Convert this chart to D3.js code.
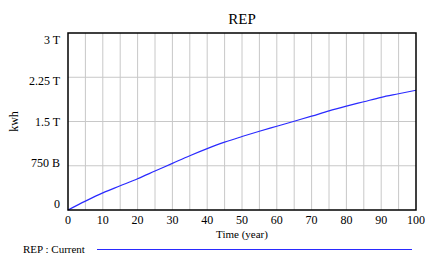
<!DOCTYPE html>
<html lang="en">
<head>
<script src="https://d3js.org/d3.v7.min.js"></script>
<style>
  body { margin: 0; background: #fff; }
</style>
</head>
<body>
<div id="chart"></div>
<script>
// data (value in trillion kwh)
var years = [0, 5, 10, 15, 20, 25, 30, 35, 40, 45, 50, 55, 60, 65, 70, 75, 80, 85, 90, 95, 100];
var rep = [0, 0.15, 0.29, 0.41, 0.53, 0.66, 0.79, 0.92, 1.04, 1.15, 1.245, 1.335, 1.42, 1.505, 1.59, 1.68, 1.76, 1.835, 1.91, 1.97, 2.03];
var yTicks = [0, 0.75, 1.5, 2.25, 3];
var yTickLabels = ["0", "750 B", "1.5 T", "2.25 T", "3 T"];
var xTicks = [0, 10, 20, 30, 40, 50, 60, 70, 80, 90, 100];

var FONT = "Liberation Serif";
var W = 425, H = 255;
var margin = { top: 33, right: 9, bottom: 45, left: 68 },
    width = W - margin.left - margin.right,
    height = H - margin.top - margin.bottom;

var svg = d3.select("#chart").append("svg")
    .attr("width", W).attr("height", H);

var g = svg.append("g")
    .attr("transform", "translate(" + margin.left + "," + margin.top + ")");

var x = d3.scaleLinear().domain([0, 100]).range([0, width]);
var y = d3.scaleLinear().domain([0, 3]).range([height, 0]);
// tick labels are spread a little inside the frame, like the original
var yLab = d3.scaleLinear().domain([0, 3]).range([height - 6, 7]);

// vertical grid every 5 years
g.selectAll(".vgrid")
    .data(d3.range(5, 100, 5))
    .enter().append("line")
    .attr("x1", function(d) { return x(d); })
    .attr("x2", function(d) { return x(d); })
    .attr("y1", 0).attr("y2", height)
    .attr("stroke", "#c8c8c8").attr("stroke-width", 1);

// horizontal grid
g.selectAll(".hgrid")
    .data(yTicks.slice(1, -1))
    .enter().append("line")
    .attr("x1", 0).attr("x2", width)
    .attr("y1", function(d) { return y(d); })
    .attr("y2", function(d) { return y(d); })
    .attr("stroke", "#c8c8c8").attr("stroke-width", 1);

// the curve
var line = d3.line()
    .x(function(d, i) { return x(years[i]); })
    .y(function(d) { return y(d); })
    .curve(d3.curveMonotoneX);

g.append("path")
    .datum(rep)
    .attr("d", line)
    .attr("fill", "none")
    .attr("stroke", "#2a2aff")
    .attr("stroke-width", 1.2);

// frame
g.append("rect")
    .attr("x", 0).attr("y", 0)
    .attr("width", width).attr("height", height)
    .attr("fill", "none")
    .attr("stroke", "#000").attr("stroke-width", 1.5);

// y tick labels
g.selectAll(".ylab")
    .data(yTicks)
    .enter().append("text")
    .attr("x", -8)
    .attr("y", function(d) { return yLab(d) + 4; })
    .attr("text-anchor", "end")
    .style("font-family", FONT)
    .style("font-size", "12px")
    .text(function(d, i) { return yTickLabels[i]; });

// x tick labels
g.selectAll(".xlab")
    .data(xTicks)
    .enter().append("text")
    .attr("x", function(d) { return x(d); })
    .attr("y", height + 14)
    .attr("text-anchor", "middle")
    .style("font-family", FONT)
    .style("font-size", "12px")
    .text(function(d) { return d; });

// axis titles
svg.append("text")
    .attr("x", margin.left + width / 2)
    .attr("y", 238)
    .attr("text-anchor", "middle")
    .style("font-family", FONT)
    .style("font-size", "11px")
    .text("Time (year)");

svg.append("text")
    .attr("transform", "translate(18," + (margin.top + height / 2) + ") rotate(-90)")
    .attr("text-anchor", "middle")
    .style("font-family", FONT)
    .style("font-size", "12px")
    .text("kwh");

// title
svg.append("text")
    .attr("x", margin.left + width / 2)
    .attr("y", 24)
    .attr("text-anchor", "middle")
    .style("font-family", FONT)
    .style("font-size", "15px")
    .text("REP");

// legend
svg.append("text")
    .attr("x", 23).attr("y", 253)
    .style("font-family", FONT)
    .style("font-size", "11px")
    .text("REP : Current");

svg.append("line")
    .attr("x1", 97).attr("x2", 412)
    .attr("y1", 249.5).attr("y2", 249.5)
    .attr("stroke", "#2a2aff").attr("stroke-width", 1.2);
</script>
</body>
</html>
